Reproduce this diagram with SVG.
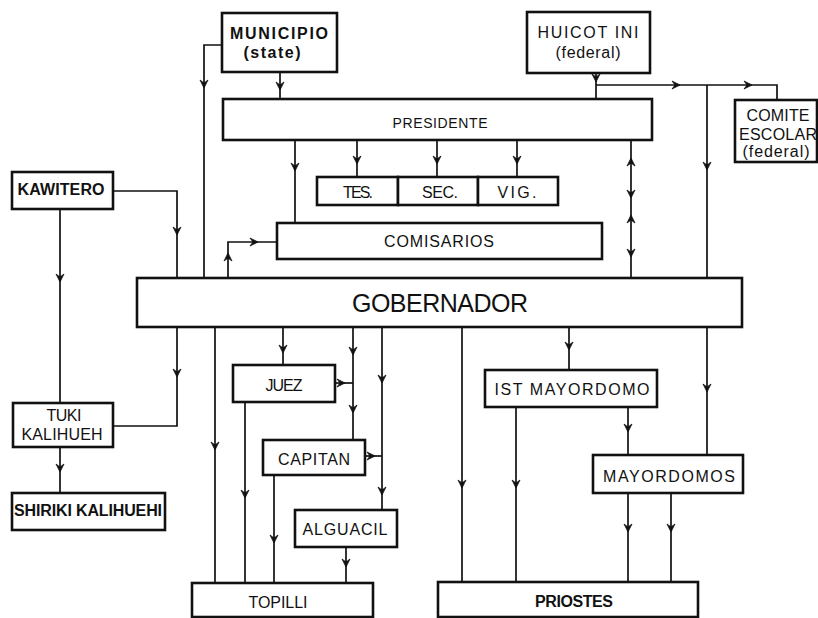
<svg xmlns="http://www.w3.org/2000/svg" xmlns:xlink="http://www.w3.org/1999/xlink" width="818" height="618" viewBox="0 0 818 618">
<style>
.box{fill:#fff;stroke:#111;stroke-width:2.6}
.ln{fill:none;stroke:#111;stroke-width:1.7}
text{font-family:"Liberation Sans",Arial,sans-serif;font-size:16px;fill:#111;text-anchor:middle}
.b{font-weight:bold}
.big{font-size:25px}
.sm{font-size:14px}
</style>
<defs>
<path id="ah" d="M-4,-8 L0,0 L4,-8 L0,-5 Z" fill="#111" stroke="#111" stroke-width="0.8"/>
</defs>
<rect width="818" height="618" fill="#fff"/>

<g id="connectors">
<path class="ln" d="M222,45 H204 V278"/>
<path class="ln" d="M280,72 V99"/>
<path class="ln" d="M596,73 V99"/>
<path class="ln" d="M596,85 H777 V100"/>
<path class="ln" d="M707,85 V278"/>
<path class="ln" d="M295,140 V223"/>
<path class="ln" d="M357,140 V177"/>
<path class="ln" d="M437,140 V177"/>
<path class="ln" d="M517,140 V177"/>
<path class="ln" d="M631,140 V278"/>
<path class="ln" d="M228,278 V242 H277"/>
<path class="ln" d="M113,191 H177 V278"/>
<path class="ln" d="M60,209 V403"/>
<path class="ln" d="M177,327 V426 H113"/>
<path class="ln" d="M60,447 V493"/>
<path class="ln" d="M215,327 V583"/>
<path class="ln" d="M283,327 V365"/>
<path class="ln" d="M353,327 V440"/>
<path class="ln" d="M335,383 H353"/>
<path class="ln" d="M382,327 V510"/>
<path class="ln" d="M365,456 H382"/>
<path class="ln" d="M245,402 V583"/>
<path class="ln" d="M274,475 V583"/>
<path class="ln" d="M346,547 V583"/>
<path class="ln" d="M462,327 V582"/>
<path class="ln" d="M569,327 V370"/>
<path class="ln" d="M516,407 V582"/>
<path class="ln" d="M628,407 V455"/>
<path class="ln" d="M707,327 V455"/>
<path class="ln" d="M628,493 V582"/>
<path class="ln" d="M671,493 V582"/>
<!-- arrowheads: down -->
<use xlink:href="#ah" transform="translate(204,88)"/>
<use xlink:href="#ah" transform="translate(280,90)"/>
<use xlink:href="#ah" transform="translate(596,82)"/>
<use xlink:href="#ah" transform="translate(707,170)"/>
<use xlink:href="#ah" transform="translate(295,171)"/>
<use xlink:href="#ah" transform="translate(357,164)"/>
<use xlink:href="#ah" transform="translate(437,164)"/>
<use xlink:href="#ah" transform="translate(517,164)"/>
<use xlink:href="#ah" transform="translate(631,198)"/>
<use xlink:href="#ah" transform="translate(631,257)"/>
<use xlink:href="#ah" transform="translate(177,235)"/>
<use xlink:href="#ah" transform="translate(60,282)"/>
<use xlink:href="#ah" transform="translate(177,377)"/>
<use xlink:href="#ah" transform="translate(60,472)"/>
<use xlink:href="#ah" transform="translate(215,450)"/>
<use xlink:href="#ah" transform="translate(283,353)"/>
<use xlink:href="#ah" transform="translate(353,355)"/>
<use xlink:href="#ah" transform="translate(353,413)"/>
<use xlink:href="#ah" transform="translate(382,383)"/>
<use xlink:href="#ah" transform="translate(382,495)"/>
<use xlink:href="#ah" transform="translate(245,498)"/>
<use xlink:href="#ah" transform="translate(274,543)"/>
<use xlink:href="#ah" transform="translate(346,567)"/>
<use xlink:href="#ah" transform="translate(462,488)"/>
<use xlink:href="#ah" transform="translate(569,350)"/>
<use xlink:href="#ah" transform="translate(516,488)"/>
<use xlink:href="#ah" transform="translate(628,432)"/>
<use xlink:href="#ah" transform="translate(707,392)"/>
<use xlink:href="#ah" transform="translate(628,532)"/>
<use xlink:href="#ah" transform="translate(671,532)"/>
<!-- up -->
<use xlink:href="#ah" transform="translate(631,158) rotate(180)"/>
<use xlink:href="#ah" transform="translate(631,215) rotate(180)"/>
<use xlink:href="#ah" transform="translate(228,253) rotate(180)"/>
<!-- right -->
<use xlink:href="#ah" transform="translate(680,85) rotate(-90)"/>
<use xlink:href="#ah" transform="translate(752,85) rotate(-90)"/>
<use xlink:href="#ah" transform="translate(258,242) rotate(-90)"/>
<use xlink:href="#ah" transform="translate(345,383) rotate(-90)"/>
<use xlink:href="#ah" transform="translate(375,456) rotate(-90)"/>
</g>

<g id="municipio"><rect class="box" x="222" y="13" width="115" height="59"/>
<text class="b" x="279" y="39" textLength="98">MUNICIPIO</text>
<text class="b" x="272" y="58" textLength="57">(state)</text></g>

<g id="huicot"><rect class="box" x="527" y="12" width="123" height="61"/>
<text x="588" y="38" textLength="101">HUICOT INI</text>
<text x="588" y="58" textLength="65">(federal)</text></g>

<g id="presidente"><rect class="box" x="223" y="99" width="429" height="41"/>
<text class="sm" x="440" y="128" textLength="95">PRESIDENTE</text></g>

<g id="comite"><rect class="box" x="735" y="100" width="82" height="62"/>
<text x="778" y="121" textLength="63">COMITE</text>
<text x="778" y="140" textLength="78">ESCOLAR</text>
<text x="776" y="157" textLength="67">(federal)</text></g>

<g id="tes"><rect class="box" x="317" y="177" width="81" height="28"/>
<text x="358" y="198" textLength="30">TES.</text></g>
<g id="sec"><rect class="box" x="398" y="177" width="80" height="28"/>
<text x="440" y="198" textLength="36">SEC.</text></g>
<g id="vig"><rect class="box" x="478" y="177" width="80" height="28"/>
<text x="517" y="198" textLength="39">VIG.</text></g>

<g id="comisarios"><rect class="box" x="277" y="223" width="325" height="36"/>
<text x="439" y="247" textLength="110">COMISARIOS</text></g>

<g id="kawitero"><rect class="box" x="12" y="172" width="101" height="37"/>
<text class="b" x="61" y="195" textLength="87">KAWITERO</text></g>

<g id="gobernador"><rect class="box" x="137" y="278" width="605" height="49"/>
<text class="big" x="440" y="312" textLength="176">GOBERNADOR</text></g>

<g id="tuki"><rect class="box" x="13" y="403" width="100" height="44"/>
<text x="64" y="421" textLength="35">TUKI</text>
<text x="62" y="440" textLength="81">KALIHUEH</text></g>

<g id="shiriki"><rect class="box" x="12" y="493" width="153" height="37"/>
<text class="b" x="88" y="516" textLength="148">SHIRIKI KALIHUEHI</text></g>

<g id="juez"><rect class="box" x="233" y="365" width="102" height="37"/>
<text x="284" y="391" textLength="37">JUEZ</text></g>

<g id="capitan"><rect class="box" x="263" y="440" width="102" height="35"/>
<text x="314" y="465" textLength="72">CAPITAN</text></g>

<g id="alguacil"><rect class="box" x="295" y="510" width="102" height="37"/>
<text x="345" y="535" textLength="85">ALGUACIL</text></g>

<g id="topilli"><rect class="box" x="192" y="583" width="181" height="34"/>
<text x="278" y="608" textLength="59">TOPILLI</text></g>

<g id="ist-mayordomo"><rect class="box" x="485" y="370" width="172" height="37"/>
<text x="572" y="395" textLength="155">IST MAYORDOMO</text></g>

<g id="mayordomos"><rect class="box" x="593" y="455" width="150" height="38"/>
<text x="669" y="482" textLength="132">MAYORDOMOS</text></g>

<g id="priostes"><rect class="box" x="438" y="582" width="260" height="35"/>
<text class="b" x="574" y="607" textLength="78">PRIOSTES</text></g>
</svg>
